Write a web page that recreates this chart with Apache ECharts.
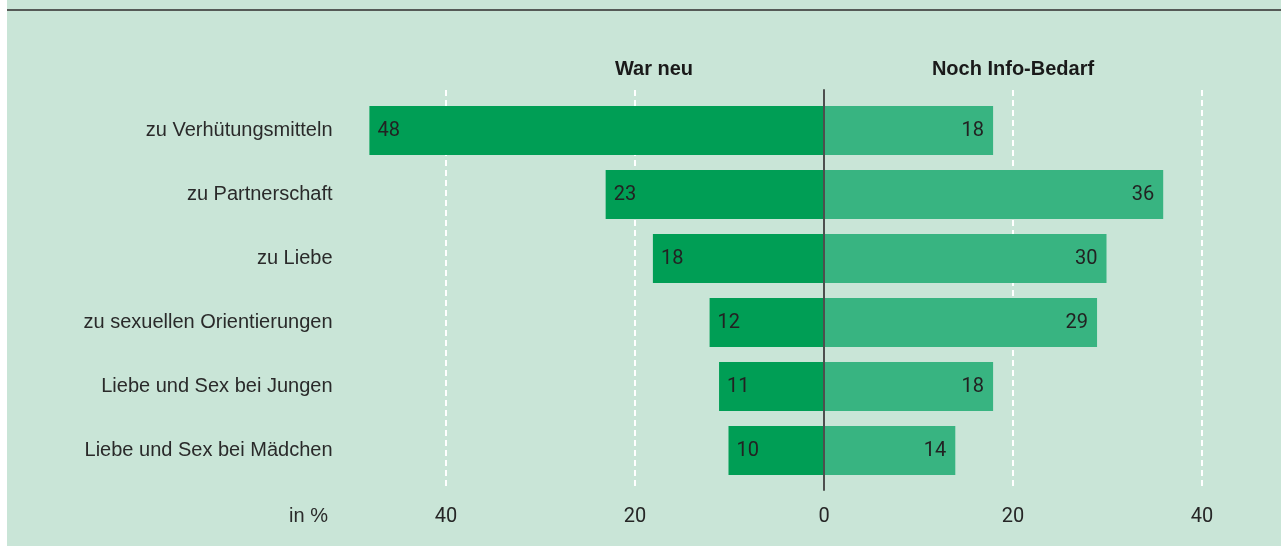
<!DOCTYPE html>
<html>
<head>
<meta charset="utf-8">
<script src="https://cdn.jsdelivr.net/npm/echarts@6/dist/echarts.min.js"></script>
<style>
html,body{margin:0;padding:0;background:#fff;}
#c{width:1281px;height:546px;}
</style>
</head>
<body>
<div id="c"></div>
<script>
const categories = ['zu Verhütungsmitteln','zu Partnerschaft','zu Liebe','zu sexuellen Orientierungen','Liebe und Sex bei Jungen','Liebe und Sex bei Mädchen'];
const warNeu = [48, 23, 18, 12, 11, 10];
const infoBedarf = [18, 36, 30, 29, 18, 14];
const seriesNames = ['War neu', 'Noch Info-Bedarf'];
const unitLabel = 'in %';

const chart = echarts.init(document.getElementById('c'));
const labelFont = 'Roboto, sans-serif';
const textFont = '"Liberation Sans", Arial, sans-serif';

chart.setOption({
  backgroundColor: '#c9e5d7',
  animation: false,
  grid: [
    {left: 350.5, right: 32.75, top: 98.5, height: 384},
    {left: 446, right: 79, top: 90, bottom: 56}
  ],
  xAxis: [
    {gridIndex: 0, type: 'value', min: -50, max: 45, show: false},
    {gridIndex: 1, type: 'value', min: -40, max: 40, interval: 20,
     axisLine: {show: false}, axisTick: {show: false},
     splitLine: {show: true, lineStyle: {color: '#ffffff', width: 2, type: [6, 4]}},
     axisLabel: {formatter: v => String(Math.abs(v)), fontFamily: labelFont, fontSize: 20, color: '#262626', margin: 17}}
  ],
  yAxis: [
    {gridIndex: 0, type: 'category', data: categories, inverse: true,
     axisLine: {show: false}, axisTick: {show: false}, splitLine: {show: false},
     axisLabel: {fontFamily: textFont, fontSize: 20, color: '#2a2a2a', margin: 18}},
    {gridIndex: 1, type: 'value', min: 0, max: 1, z: 10,
     axisLabel: {show: false}, axisTick: {show: false}, splitLine: {show: false},
     axisLine: {show: true, onZero: true, lineStyle: {color: '#4d4f4e', width: 2}}}
  ],
  series: [
    {name: seriesNames[0], type: 'bar', xAxisIndex: 0, yAxisIndex: 0,
     data: warNeu.map(v => -v), barWidth: 49, barGap: '-100%',
     itemStyle: {color: '#009e55'},
     label: {show: true, position: 'insideLeft', distance: 8, formatter: p => String(Math.abs(p.value)),
             fontFamily: labelFont, fontSize: 20, color: '#222'}},
    {name: seriesNames[1], type: 'bar', xAxisIndex: 0, yAxisIndex: 0,
     data: infoBedarf, barWidth: 49, barGap: '-100%',
     itemStyle: {color: '#38b481'},
     label: {show: true, position: 'insideRight', distance: 9,
             fontFamily: labelFont, fontSize: 20, color: '#222'}}
  ],
  graphic: [
    {type: 'rect', shape: {x: 0, y: 0, width: 7, height: 546}, style: {fill: '#ffffff'}},
    {type: 'line', shape: {x1: 7, y1: 10, x2: 1281, y2: 10}, style: {stroke: '#555a57', lineWidth: 2}},
    {type: 'text', x: 654, y: 69, style: {text: seriesNames[0], font: 'bold 20px "Liberation Sans", Arial, sans-serif', fill: '#1a1a1a', textAlign: 'center', textVerticalAlign: 'middle'}},
    {type: 'text', x: 1013, y: 69, style: {text: seriesNames[1], font: 'bold 20px "Liberation Sans", Arial, sans-serif', fill: '#1a1a1a', textAlign: 'center', textVerticalAlign: 'middle'}},
    {type: 'text', x: 328, y: 516, style: {text: unitLabel, font: '20px "Liberation Sans", Arial, sans-serif', fill: '#2a2a2a', textAlign: 'right', textVerticalAlign: 'middle'}}
  ]
});
</script>
</body>
</html>
